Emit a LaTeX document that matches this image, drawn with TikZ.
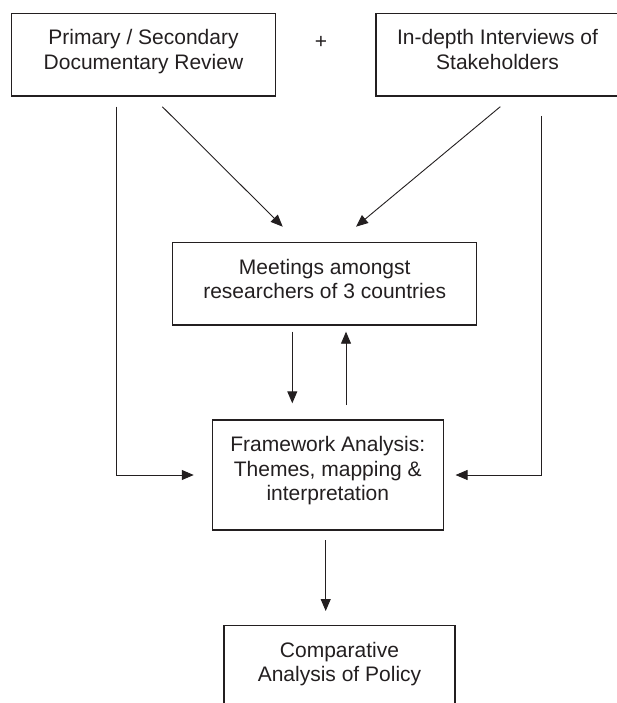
\documentclass[tikz,border=0pt]{standalone}
\usepackage{fontspec}
\setmainfont{Liberation Sans}
\usetikzlibrary{arrows.meta,calc}
\definecolor{ink}{RGB}{35,31,32}
\begin{document}
\begin{tikzpicture}[x=1pt,y=-1pt,
  box/.style={draw=ink, line width=1.1pt, inner xsep=0pt, inner ysep=0pt, text=ink,
    font=\fontsize{21}{24.5}\selectfont, text height=31.5pt},
  arr/.style={draw=ink, line width=0.9pt, -{Triangle[length=12pt,width=10pt]}},
  sign/.style={text=ink, font=\fontsize{21}{24.5}\selectfont, inner sep=0pt}]
\useasboundingbox (0,0) rectangle (617,703);
% boxes
\node[box, minimum width=263.6pt, text depth=51.2pt] (b1) at (143.5,54.7)
  {\begin{tabular}[t]{@{}c@{}}Primary / Secondary\\Documentary Review\end{tabular}};
\node[box, minimum width=243pt, text depth=51.2pt] (b2) at (497.5,54.7)
  {\begin{tabular}[t]{@{}c@{}}In-depth Interviews of\\Stakeholders\end{tabular}};
\node[sign] (plus) at (321,42) {+};
\node[box, minimum width=304pt, text depth=50.8pt] (m) at (324.7,283.8)
  {\begin{tabular}[t]{@{}c@{}}Meetings amongst\\researchers of 3 countries\end{tabular}};
\node[box, minimum width=231pt, text depth=78.5pt] (fw) at (327.8,475)
  {\begin{tabular}[t]{@{}c@{}}Framework Analysis:\\Themes, mapping \&\\interpretation\end{tabular}};
\node[box, minimum width=231pt, text depth=78.5pt] (cp) at (339.5,680.7)
  {\begin{tabular}[t]{@{}c@{}}Comparative\\Analysis of Policy\end{tabular}};
% connector end points (free ends)
\coordinate (l1) at (116,106.7);
\coordinate (d1a) at (162.3,106.7);
\coordinate (d1b) at (282.7,226.7);
\coordinate (d2a) at (500.3,106.7);
\coordinate (d2b) at (356,226.7);
\coordinate (r1) at (541,116);
\coordinate (dn1) at (292.3,331.7);
\coordinate (dn2) at (292.3,403.3);
\coordinate (up1) at (346,405);
\coordinate (up2) at (346,331.7);
\coordinate (f1) at (325.7,540);
\coordinate (f2) at (325.7,611);
% connectors
\draw[arr, shorten >=18pt] (l1) |- (fw.west);
\draw[arr, shorten >=11.7pt] (r1) |- (fw.east);
\draw[arr] (d1a) -- (d1b);
\draw[arr] (d2a) -- (d2b);
\draw[arr] (dn1) -- (dn2);
\draw[arr] (up1) -- (up2);
\draw[arr] (f1) -- (f2);
\end{tikzpicture}
\end{document}
